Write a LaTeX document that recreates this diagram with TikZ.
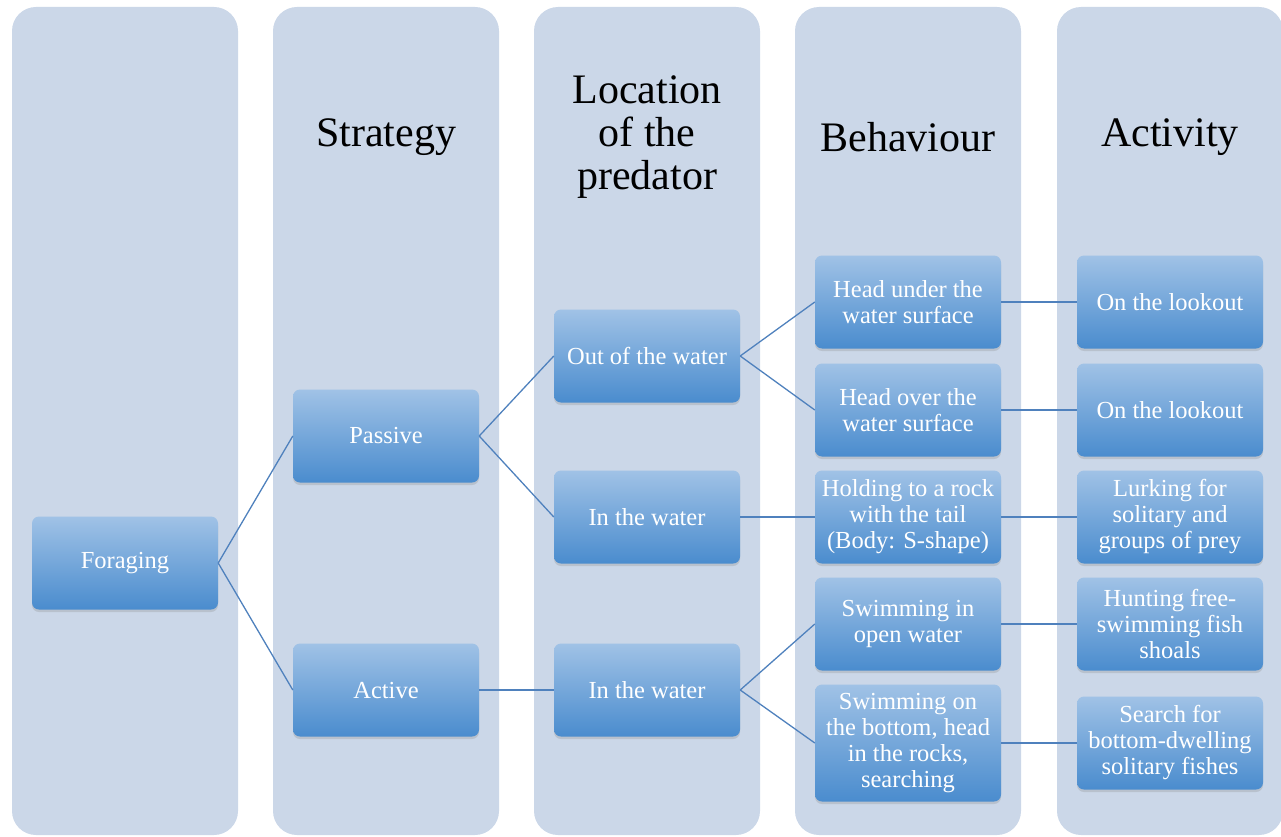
\documentclass[tikz,border=0pt]{standalone}
\usepackage{fontspec}
\setmainfont{Liberation Serif}
\usetikzlibrary{shadows}
\definecolor{LaneBlue}{RGB}{203,215,232}
\definecolor{BoxTop}{RGB}{160,194,230}
\definecolor{BoxBottom}{RGB}{74,140,206}
\definecolor{LinkBlue}{RGB}{79,129,189}
\tikzset{
  lane/.style={fill=LaneBlue, rounded corners=24pt},
  box/.style={rounded corners=7pt, top color=BoxTop, bottom color=BoxBottom, text=white,
    minimum width=186pt, minimum height=93pt, align=center, inner sep=4pt,
    font=\fontsize{24.5}{26}\selectfont,
    drop shadow={opacity=0.25, shadow xshift=0pt, shadow yshift=-2.5pt}},
  heading/.style={align=center, font=\fontsize{42}{43}\selectfont},
  link/.style={draw=LinkBlue, line width=1.3pt}
}

\begin{document}
\begin{tikzpicture}[x=1pt, y=-1pt]
  \useasboundingbox (0,0) rectangle (1281,837);
  % background lanes
  \foreach \cx in {125,386,647,908,1170}
    \fill[lane] (\cx-113,7) rectangle (\cx+113,835);

  \node[heading] (hstrat) at (386,137) {Strategy};
  \node[heading] (hloc) at (647,137) {Location\\ of the\\ predator};
  \node[heading] (hbeh) at (908,137) {Behaviour};
  \node[heading] (hact) at (1170,137) {Activity};

  \node[box] (forage) at (125,563) {Foraging};
  \node[box] (passive) at (386,436) {Passive};
  \node[box] (active) at (386,690) {Active};
  \node[box] (outwater) at (647,356) {Out of the water};
  \node[box] (inwater) at (647,517) {In the water};
  \node[box] (inwateract) at (647,690) {In the water};
  \node[box] (headunder) at (908,302) {Head under the\\ water surface};
  \node[box] (headover) at (908,410) {Head over the\\ water surface};
  \node[box] (holding) at (908,517) {Holding to a rock\\ with the tail\\ (Body: S-shape)};
  \node[box] (swimopen) at (908,624) {Swimming in\\ open water};
  \node[box, minimum height=117pt] (swimbottom) at (908,743) {Swimming on\\ the bottom, head\\ in the rocks,\\ searching};
  \node[box] (lookA) at (1170,302) {On the lookout};
  \node[box] (lookB) at (1170,410) {On the lookout};
  \node[box] (lurking) at (1170,517) {Lurking for\\ solitary and\\ groups of prey};
  \node[box] (hunting) at (1170,624) {Hunting free-\\ swimming fish\\ shoals};
  \node[box] (search) at (1170,743) {Search for\\ bottom-dwelling\\ solitary fishes};

  % tree links
  \draw[link] (forage.east) -- (passive.west);
  \draw[link] (forage.east) -- (active.west);
  \draw[link] (passive.east) -- (outwater.west);
  \draw[link] (passive.east) -- (inwater.west);
  \draw[link] (active.east) -- (inwateract.west);
  \draw[link] (outwater.east) -- (headunder.west);
  \draw[link] (outwater.east) -- (headover.west);
  \draw[link] (inwater.east) -- (holding.west);
  \draw[link] (inwateract.east) -- (swimopen.west);
  \draw[link] (inwateract.east) -- (swimbottom.west);
  \draw[link] (headunder.east) -- (lookA.west);
  \draw[link] (headover.east) -- (lookB.west);
  \draw[link] (holding.east) -- (lurking.west);
  \draw[link] (swimopen.east) -- (hunting.west);
  \draw[link] (swimbottom.east) -- (search.west);
\end{tikzpicture}
\end{document}
